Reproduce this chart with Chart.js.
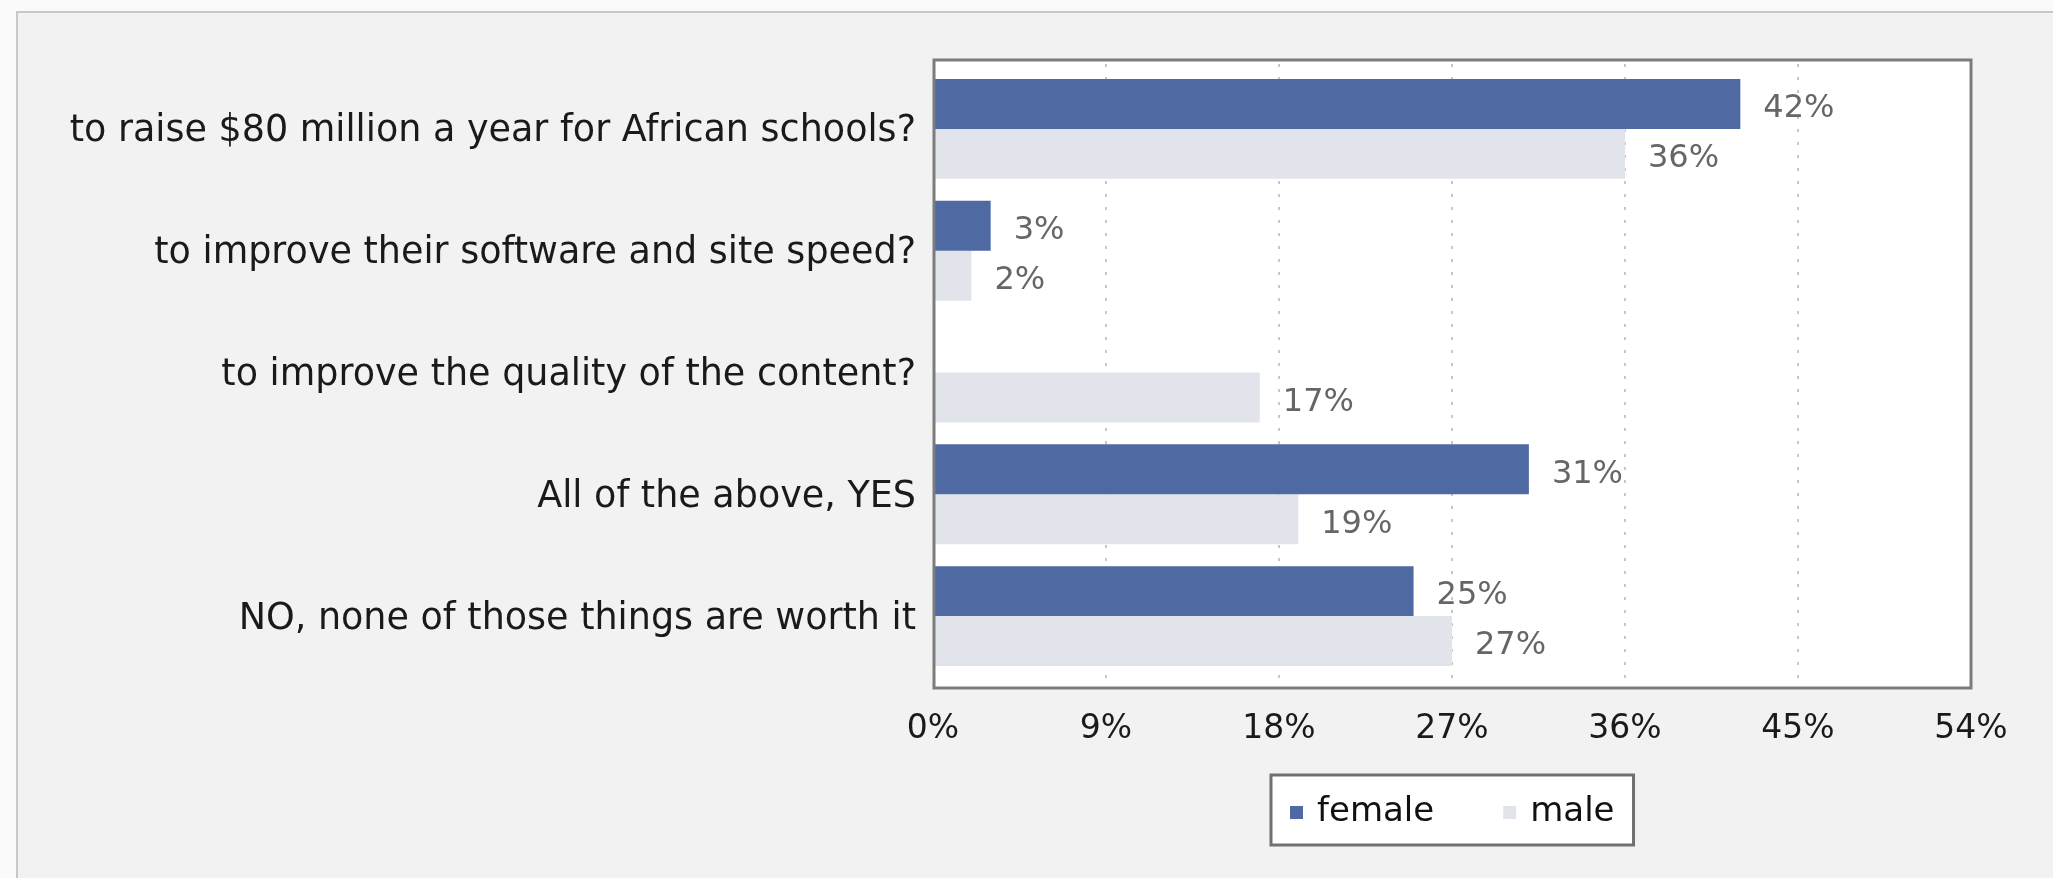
<!DOCTYPE html>
<html>
<head>
<meta charset="utf-8">
<script src="https://cdn.jsdelivr.net/npm/chart.js@4.4.1/dist/chart.umd.min.js"></script>
<style>
  html, body { margin: 0; padding: 0; background: #fafafa; }
  canvas { display: block; }
</style>
</head>
<body>
<canvas id="myChart" width="2053" height="878"></canvas>
<script>
const categories = [
  "to raise $80 million a year for African schools?",
  "to improve their software and site speed?",
  "to improve the quality of the content?",
  "All of the above, YES",
  "NO, none of those things are worth it"
];
const femaleValues = [42, 3, 0, 31, 25];
const maleValues = [36, 2, 17, 19, 27];
const seriesNames = ["female", "male"];
const seriesColors = ["#4f69a2", "#e1e4eb"];
const xMax = 54;
const xStep = 9;

const FONT = "'DejaVu Sans', sans-serif";

// background panel, white plot box, dotted grid
const backdrop = {
  id: 'backdrop',
  beforeDraw(chart) {
    const ctx = chart.ctx, a = chart.chartArea;
    ctx.save();
    ctx.fillStyle = '#f2f2f2';
    ctx.fillRect(16, 11, chart.width, chart.height);
    ctx.strokeStyle = '#c8c8c8';
    ctx.lineWidth = 2;
    ctx.strokeRect(17, 12, chart.width + 10, chart.height + 10);
    ctx.fillStyle = '#ffffff';
    ctx.fillRect(a.left, a.top - 8, a.right - a.left, a.bottom - a.top + 19);
    const x = chart.scales.x;
    ctx.strokeStyle = '#c8c8c8';
    ctx.lineWidth = 2;
    ctx.setLineDash([3, 10]);
    x.ticks.forEach(t => {
      if (t.value <= 0 || t.value >= xMax) return;
      const px = Math.round(x.getPixelForValue(t.value));
      ctx.beginPath();
      ctx.moveTo(px, a.top - 4);
      ctx.lineTo(px, a.bottom + 11);
      ctx.stroke();
    });
    ctx.restore();
  },
  afterDraw(chart) {
    const ctx = chart.ctx, a = chart.chartArea;
    ctx.save();
    // plot box border
    ctx.strokeStyle = '#7c7c7c';
    ctx.lineWidth = 3;
    ctx.strokeRect(a.left + 1, a.top - 8, a.right - a.left - 1, a.bottom - a.top + 19);

    // legend
    ctx.font = "34px " + FONT;
    const pad = 19, mark = 13, gap = 14, between = 69;
    const widths = seriesNames.map(n => ctx.measureText(n).width);
    let total = pad * 2 + between * (seriesNames.length - 1);
    widths.forEach(w => total += mark + gap + w);
    const cx = (a.left + a.right) / 2;
    const bx = Math.round(cx - total / 2);
    const by = a.bottom + 98;
    const bh = 70;
    ctx.fillStyle = '#ffffff';
    ctx.fillRect(bx, by, total, bh);
    ctx.strokeStyle = '#707070';
    ctx.lineWidth = 3;
    ctx.strokeRect(bx, by, total, bh);
    let x = bx + pad;
    const my = by + bh / 2;
    ctx.textBaseline = 'middle';
    ctx.textAlign = 'left';
    seriesNames.forEach((n, i) => {
      ctx.fillStyle = seriesColors[i];
      ctx.fillRect(x, my - 4, mark, mark);
      x += mark + gap;
      ctx.fillStyle = '#111111';
      ctx.fillText(n, x, my + 2);
      x += widths[i] + between;
    });
    ctx.restore();
  }
};

// value labels right of each bar
const valueLabels = {
  id: 'valueLabels',
  afterDatasetsDraw(chart) {
    const ctx = chart.ctx;
    ctx.save();
    ctx.font = "32px " + FONT;
    ctx.fillStyle = '#666666';
    ctx.textAlign = 'left';
    ctx.textBaseline = 'middle';
    chart.data.datasets.forEach((ds, i) => {
      chart.getDatasetMeta(i).data.forEach((bar, j) => {
        const v = ds.data[j];
        if (!v) return;
        ctx.fillText(v + '%', bar.x + 23, bar.y + 5);
      });
    });
    ctx.restore();
  }
};

let myChart1 = document.getElementById("myChart").getContext('2d');

let chart1 = new Chart(myChart1, {
  type: "bar",
  data: {
    labels: categories,
    datasets: [
      { label: seriesNames[0], data: femaleValues, backgroundColor: seriesColors[0] },
      { label: seriesNames[1], data: maleValues, backgroundColor: seriesColors[1] }
    ]
  },
  options: {
    indexAxis: 'y',
    responsive: false,
    animation: false,
    devicePixelRatio: 1,
    categoryPercentage: 0.82,
    barPercentage: 1.0,
    layout: { padding: { left: 0, top: 68, right: 82, bottom: 121 } },
    scales: {
      x: {
        min: 0,
        max: xMax,
        grid: { display: false, drawTicks: false },
        border: { display: false },
        ticks: {
          stepSize: xStep,
          padding: 33,
          color: '#1a1a1a',
          font: { family: FONT, size: 33 },
          callback: v => v + '%'
        },
        afterFit: s => { s.height = 80; }
      },
      y: {
        grid: { display: false, drawTicks: false },
        border: { display: false },
        ticks: {
          padding: 17,
          labelOffset: 3,
          color: '#1a1a1a',
          font: { family: FONT, size: 36.5 }
        },
        afterFit: s => { s.width = 933; }
      }
    },
    plugins: {
      legend: { display: false },
      tooltip: { enabled: false }
    }
  },
  plugins: [backdrop, valueLabels]
});
</script>
</body>
</html>
